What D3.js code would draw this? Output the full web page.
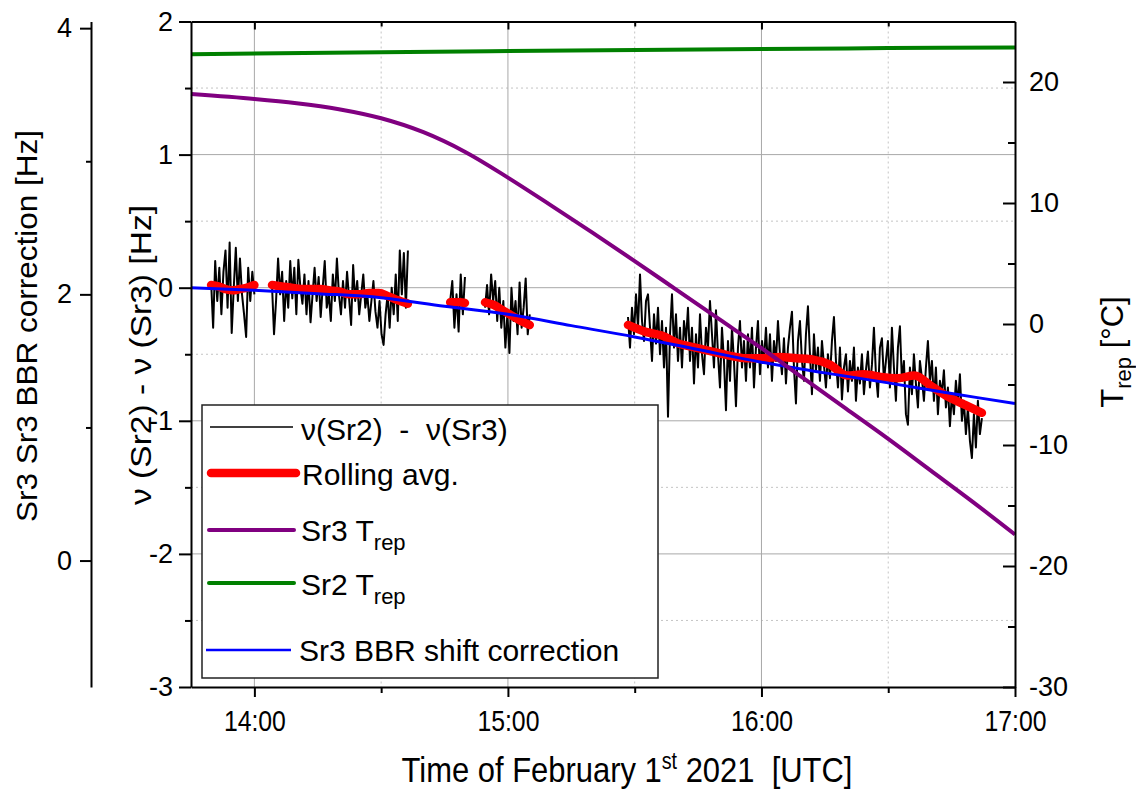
<!DOCTYPE html>
<html><head><meta charset="utf-8">
<script src="https://cdn.jsdelivr.net/npm/d3@7"></script>
<style>
body{margin:0;background:#fff;}
svg{display:block;}
text{font-family:"Liberation Sans", Arial, sans-serif; fill:#000;}
</style></head><body>
<svg id="chart" width="1136" height="792"></svg>
<script>
// ---------- DATA ----------
const timeDomain = ["13:45", "17:00"];
const hourTicks = ["14:00", "15:00", "16:00", "17:00"];
const halfHourTicks = ["14:30", "15:30", "16:30"];
const freqTicks = [2, 1, 0, -1, -2, -3];
const freqMinorTicks = [1.5, 0.5, -0.5, -1.5, -2.5];
const freqDomain = [-3, 2];
const bbrTicks = [4, 2, 0];
const bbrMinorTicks = [3, 1];
const bbrDomain = [-0.95, 4.05];
const tempTicks = [20, 10, 0, -10, -20, -30];
const tempMinorTicks = [15, 5, -5, -15, -25];
const tempDomain = [-30, 25];

// Sr3 T_rep (°C)
const sr3TrepTimes = ["13:45","14:00","14:10","14:20","14:30","14:40","14:50","15:00","15:10","15:20","15:30","15:40","15:50","16:00","16:10","16:20","16:30","16:40","16:50","17:00"];
const sr3TrepValues = [19.0, 18.6, 18.25, 17.75, 17.0, 15.85, 14.2, 12.1, 9.85, 7.55, 5.2, 2.8, 0.4, -2.0, -4.5, -7.0, -9.5, -12.1, -14.7, -17.4];

// Sr2 T_rep (°C)
const sr2TrepTimes = ["13:45","14:30","15:15","16:00","16:30","17:00"];
const sr2TrepValues = [22.3, 22.45, 22.6, 22.72, 22.8, 22.85];

// Sr3 BBR shift correction (Hz, outer axis)
const bbrTimes = ["13:45","14:00","14:15","14:30","14:45","15:00","15:15","15:30","15:45","16:00","16:15","16:30","16:45","17:00"];
const bbrValues = [2.05, 2.03, 2.005, 1.975, 1.91, 1.85, 1.765, 1.68, 1.585, 1.49, 1.41, 1.335, 1.255, 1.18];

// nu(Sr2) - nu(Sr3) measurement segments (Hz), evenly sampled between start and end
const segStarts = ["13:49:45", "14:04:10", "14:46:20", "14:54:35", "15:28:25"];
const segEnds   = ["14:00:00", "14:36:20", "14:49:50", "15:05:10", "16:52:10"];
const diffSeg1 = [0.05, -0.3, 0.2, -0.1, 0.15, -0.2, 0.12, 0.28, -0.15, 0.34, -0.34, 0.0, 0.3, -0.1, 0.22, -0.05, -0.2, -0.37, 0.15, -0.1, 0.12, -0.05];
const diffSeg2 = [0.02, -0.35, -0.1, 0.22, -0.05, 0.12, -0.25, 0.05, -0.15, 0.2,
  -0.08, 0.15, -0.2, 0.21, 0.0, -0.12, 0.1, -0.2, 0.05, -0.26,
  -0.05, 0.15, -0.1, 0.08, -0.22, 0.0, 0.2, -0.15, -0.05, -0.25,
  0.1, -0.1, 0.22, -0.05, -0.2, 0.05, -0.15, 0.12, -0.08, -0.28,
  0.17, -0.1, 0.05, -0.2, -0.05, 0.1, -0.15, -0.05, -0.25, -0.1,
  0.05, -0.18, -0.3, -0.1, -0.35, -0.43, -0.2, -0.05, -0.3, 0.0,
  -0.2, 0.1, -0.25, 0.28, -0.05, 0.26, -0.15, 0.28];
const diffSeg3 = [-0.1, 0.05, -0.3, -0.05, -0.33, 0.1, -0.2, 0.08];
const diffSeg4 = [-0.15, 0.02, -0.2, 0.1, -0.1, 0.05, -0.25, 0.0, -0.3, -0.1, -0.45, -0.2, -0.49, 0.0, -0.25, -0.1, -0.35, 0.04, -0.3, -0.15, 0.07, -0.35, -0.2];
const diffSeg5 = [
  -0.22, -0.45, -0.15, -0.35, -0.05, -0.3, 0.1, -0.25, -0.4, -0.1,
  -0.05, -0.3, -0.55, -0.2, -0.42, -0.15, -0.5, -0.25, -0.6, -0.3,
  -0.97, -0.35, -0.05, -0.45, -0.2, -0.55, -0.3, -0.6, -0.25, -0.4,
  -0.15, -0.55, -0.3, -0.72, -0.35, -0.6, -0.2, -0.5, -0.65, -0.3,
  -0.45, -0.1, -0.35, -0.6, -0.17, -0.5, -0.75, -0.3, -0.55, -0.92,
  -0.4, -0.7, -0.3, -0.55, -0.89, -0.45, -0.25, -0.6, -0.4, -0.7,
  -0.35, -0.6, -0.3, -0.75, -0.45, -0.25, -0.65, -0.4, -0.55, -0.3,
  -0.6, -0.35, -0.7, -0.4, -0.55, -0.25, -0.5, -0.65, -0.38, -0.72,
  -0.45, -0.3, -0.18, -0.6, -0.87, -0.4, -0.25, -0.55, -0.7, -0.35,
  -0.14, -0.5, -0.8, -0.35, -0.62, -0.45, -0.7, -0.4, -0.58, -0.75,
  -0.5, -0.68, -0.4, -0.22, -0.55, -0.75, -0.45, -0.84, -0.6, -0.5,
  -0.78, -0.55, -0.7, -0.45, -0.85, -0.6, -0.72, -0.5, -0.8, -0.62,
  -0.48, -0.75, -0.58, -0.3, -0.65, -0.82, -0.45, -0.38, -0.7, -0.55,
  -0.4, -0.75, -0.3, -0.6, -0.85, -0.45, -0.29, -0.7, -0.55, -0.95,
  -1.03, -0.6, -0.8, -0.5, -0.72, -0.9, -0.55, -0.68, -0.85, -0.6,
  -0.4, -0.7, -0.55, -0.85, -0.6, -0.95, -0.7, -0.8, -0.62, -0.9,
  -0.75, -1.04, -0.8, -0.95, -0.7, -0.88, -0.65, -1.0, -0.85, -1.1,
  -0.9, -1.15, -1.28, -0.95, -1.2, -0.85, -1.1, -0.98];

// Rolling average per segment (Hz)
const rollSeg1 = [0.02, 0.01, -0.01, -0.02, -0.01, 0.0, 0.02];
const rollSeg2 = [0.02, 0.01, 0.0, -0.01, -0.01, -0.01, -0.02, -0.03, -0.05, -0.05, -0.04, -0.04, -0.065, -0.095, -0.12];
const rollSeg3 = [-0.11, -0.11, -0.11, -0.115];
const rollSeg4 = [-0.11, -0.13, -0.17, -0.21, -0.25, -0.28];
const rollSeg5 = [-0.28, -0.33, -0.36, -0.42, -0.45, -0.48, -0.51, -0.53, -0.53, -0.52, -0.53, -0.54, -0.58, -0.66, -0.65, -0.67, -0.68, -0.66, -0.74, -0.82, -0.88, -0.94];

// ---------- CHART ----------
const T = s => { const p = s.split(":").map(Number); return new Date(Date.UTC(2021, 1, 1, p[0], p[1], p[2] || 0)); };
const svg = d3.select("#chart");
const X0 = 191, X1 = 1015, Y0 = 21.5, Y1 = 687;

const x = d3.scaleUtc().domain(timeDomain.map(T)).range([X0, X1]);
const yF = d3.scaleLinear().domain(freqDomain).range([Y1, Y0]);
const yB = d3.scaleLinear().domain(bbrDomain).range([Y1, Y0]);
const yT = d3.scaleLinear().domain(tempDomain).range([Y1, Y0]);

// grid
const grid = svg.append("g");
grid.selectAll(".hmaj").data(freqTicks.filter(d => d > freqDomain[0] && d < freqDomain[1])).join("line")
  .attr("x1", X0).attr("x2", X1).attr("y1", d => yF(d)).attr("y2", d => yF(d))
  .attr("stroke", "#a8a8a8").attr("stroke-width", 1);
grid.selectAll(".hmin").data(freqMinorTicks).join("line")
  .attr("x1", X0).attr("x2", X1).attr("y1", d => yF(d)).attr("y2", d => yF(d))
  .attr("stroke", "#c4c4c4").attr("stroke-width", 1).attr("stroke-dasharray", "2,3");
grid.selectAll(".vmaj").data(hourTicks.slice(0, 3).map(T)).join("line")
  .attr("y1", Y0).attr("y2", Y1).attr("x1", d => x(d)).attr("x2", d => x(d))
  .attr("stroke", "#a8a8a8").attr("stroke-width", 1);
grid.selectAll(".vmin").data(halfHourTicks.map(T)).join("line")
  .attr("y1", Y0).attr("y2", Y1).attr("x1", d => x(d)).attr("x2", d => x(d))
  .attr("stroke", "#c4c4c4").attr("stroke-width", 1).attr("stroke-dasharray", "2,3");

// build series
const segDiffs = [diffSeg1, diffSeg2, diffSeg3, diffSeg4, diffSeg5];
const segRolls = [rollSeg1, rollSeg2, rollSeg3, rollSeg4, rollSeg5];
function sampled(vals, i) {
  const t0 = T(segStarts[i]).getTime(), t1 = T(segEnds[i]).getTime();
  return vals.map((v, k) => [new Date(t0 + (t1 - t0) * k / (vals.length - 1)), v]);
}
const lineF = d3.line().x(d => x(d[0])).y(d => yF(d[1]));
const lineFs = d3.line().x(d => x(d[0])).y(d => yF(d[1])).curve(d3.curveMonotoneX);
const lineT = d3.line().x(d => x(T(d[0]))).y(d => yT(d[1])).curve(d3.curveCatmullRom.alpha(0.5));
const lineB = d3.line().x(d => x(T(d[0]))).y(d => yB(d[1])).curve(d3.curveCatmullRom.alpha(0.5));

const plot = svg.append("g");
segDiffs.forEach((vals, i) => {
  plot.append("path").attr("d", lineF(sampled(vals, i)))
    .attr("fill", "none").attr("stroke", "#000").attr("stroke-width", 2).attr("stroke-linejoin", "round");
});
segRolls.forEach((vals, i) => {
  plot.append("path").attr("d", lineFs(sampled(vals, i)))
    .attr("fill", "none").attr("stroke", "#ff0000").attr("stroke-width", 8.5)
    .attr("stroke-linecap", "round").attr("stroke-linejoin", "round");
});
plot.append("path").attr("d", lineB(bbrTimes.map((t, i) => [t, bbrValues[i]])))
  .attr("fill", "none").attr("stroke", "#0000ff").attr("stroke-width", 3);
plot.append("path").attr("d", lineT(sr3TrepTimes.map((t, i) => [t, sr3TrepValues[i]])))
  .attr("fill", "none").attr("stroke", "#800080").attr("stroke-width", 4);
plot.append("path").attr("d", lineT(sr2TrepTimes.map((t, i) => [t, sr2TrepValues[i]])))
  .attr("fill", "none").attr("stroke", "#008000").attr("stroke-width", 4);

// axes
function styleAxis(g, fs) {
  g.selectAll("path.domain").attr("stroke", "#000").attr("stroke-width", 2);
  g.selectAll(".tick line").attr("stroke", "#000").attr("stroke-width", 2);
  g.selectAll("text").attr("font-family", null).style("font-size", fs + "px").attr("fill", "#000");
}
const fmt = d => String(d);

// bottom
const gb = svg.append("g").attr("transform", `translate(0,${Y1})`)
  .call(d3.axisBottom(x).tickValues(hourTicks.map(T)).tickFormat(d3.utcFormat("%H:%M")).tickSize(10).tickSizeOuter(0).tickPadding(13));
styleAxis(gb, 30);
gb.selectAll("text").attr("textLength", 62).attr("lengthAdjust", "spacingAndGlyphs");
const gbm = svg.append("g").attr("transform", `translate(0,${Y1})`)
  .call(d3.axisBottom(x).tickValues(halfHourTicks.map(T)).tickFormat("").tickSize(6).tickSizeOuter(0));
styleAxis(gbm, 10); gbm.select(".domain").remove();

// top
const gt = svg.append("g").attr("transform", `translate(0,${Y0})`)
  .call(d3.axisTop(x).tickValues(hourTicks.slice(0, 3).map(T)).tickFormat("").tickSize(-8).tickSizeOuter(0));
styleAxis(gt, 10);
const gtm = svg.append("g").attr("transform", `translate(0,${Y0})`)
  .call(d3.axisTop(x).tickValues(halfHourTicks.map(T)).tickFormat("").tickSize(-5).tickSizeOuter(0));
styleAxis(gtm, 10); gtm.select(".domain").remove();

// left middle
const gl = svg.append("g").attr("transform", `translate(${X0},0)`)
  .call(d3.axisLeft(yF).tickValues(freqTicks).tickFormat(fmt).tickSize(12).tickSizeOuter(0).tickPadding(6));
styleAxis(gl, 27);
const glm = svg.append("g").attr("transform", `translate(${X0},0)`)
  .call(d3.axisLeft(yF).tickValues(freqMinorTicks).tickFormat("").tickSize(6).tickSizeOuter(0));
styleAxis(glm, 10); glm.select(".domain").remove();

// left outer
const go = svg.append("g").attr("transform", `translate(91,0)`)
  .call(d3.axisLeft(yB).tickValues(bbrTicks).tickFormat(fmt).tickSize(11).tickSizeOuter(0).tickPadding(8));
styleAxis(go, 27);
const gom = svg.append("g").attr("transform", `translate(91,0)`)
  .call(d3.axisLeft(yB).tickValues(bbrMinorTicks).tickFormat("").tickSize(5).tickSizeOuter(0));
styleAxis(gom, 10); gom.select(".domain").remove();

// right
const gr = svg.append("g").attr("transform", `translate(${X1},0)`)
  .call(d3.axisRight(yT).tickValues(tempTicks).tickFormat(fmt).tickSize(-12).tickSizeOuter(0).tickPadding(14));
styleAxis(gr, 27);
const grm = svg.append("g").attr("transform", `translate(${X1},0)`)
  .call(d3.axisRight(yT).tickValues(tempMinorTicks).tickFormat("").tickSize(-7).tickSizeOuter(0));
styleAxis(grm, 10); grm.select(".domain").remove();

// axis titles
svg.append("text").attr("transform", "translate(37,326) rotate(-90)")
  .attr("text-anchor", "middle").style("font-size", "30px")
  .attr("textLength", 392).attr("lengthAdjust", "spacingAndGlyphs")
  .text("Sr3 Sr3 BBR correction [Hz]");
svg.append("text").attr("transform", "translate(151,355) rotate(-90)")
  .attr("text-anchor", "middle").style("font-size", "30px")
  .attr("textLength", 300).attr("lengthAdjust", "spacingAndGlyphs")
  .text("ν (Sr2) - ν (Sr3) [Hz]");
const rt = svg.append("text").attr("transform", "translate(1123,352) rotate(-90)")
  .attr("text-anchor", "middle").style("font-size", "31px");
rt.append("tspan").text("T");
rt.append("tspan").attr("dy", 8).style("font-size", "22px").text("rep");
rt.append("tspan").attr("dy", -8).text(" [°C]");

const xt = svg.append("g").attr("transform", "translate(627,782)");
const xtt = xt.append("text").attr("text-anchor", "middle").style("font-size", "36px");
xtt.append("tspan").text("Time of February 1");
xtt.append("tspan").attr("dy", -13).style("font-size", "23px").text("st");
xtt.append("tspan").attr("dy", 13).style("white-space", "pre").text(" 2021  [UTC]");
{
  const w = xtt.node().getBBox().width;
  xtt.attr("transform", `scale(${451 / w},1)`);
}

// legend
const lg = svg.append("g");
lg.append("rect").attr("x", 202).attr("y", 405).attr("width", 456).attr("height", 273)
  .attr("fill", "#fff").attr("stroke", "#222").attr("stroke-width", 1.5);
const legendRows = [
  {y: 427, x1: 210, x2: 293, color: "#000", w: 1.5, cap: "butt"},
  {y: 473, x1: 211, x2: 296, color: "#ff0000", w: 8.5, cap: "round"},
  {y: 530, x1: 209, x2: 294, color: "#800080", w: 4, cap: "round"},
  {y: 583, x1: 209, x2: 294, color: "#008000", w: 4, cap: "round"},
  {y: 650, x1: 206, x2: 291, color: "#0000ff", w: 2.5, cap: "butt"}
];
lg.selectAll("line").data(legendRows).join("line")
  .attr("x1", d => d.x1).attr("x2", d => d.x2).attr("y1", d => d.y).attr("y2", d => d.y)
  .attr("stroke", d => d.color).attr("stroke-width", d => d.w).attr("stroke-linecap", d => d.cap);
lg.append("text").attr("x", 301).attr("y", 440).style("font-size", "30px").style("white-space", "pre")
  .text("ν(Sr2)  -  ν(Sr3)");
lg.append("text").attr("x", 302).attr("y", 485).style("font-size", "30px").text("Rolling avg.");
[["Sr3 T", 541], ["Sr2 T", 595]].forEach(([s, yy]) => {
  const t = lg.append("text").attr("x", 301).attr("y", yy).style("font-size", "30px");
  t.append("tspan").text(s);
  t.append("tspan").attr("dy", 9).style("font-size", "22px").text("rep");
});
lg.append("text").attr("x", 299).attr("y", 661).style("font-size", "30px").text("Sr3 BBR shift correction");
</script>
</body></html>
